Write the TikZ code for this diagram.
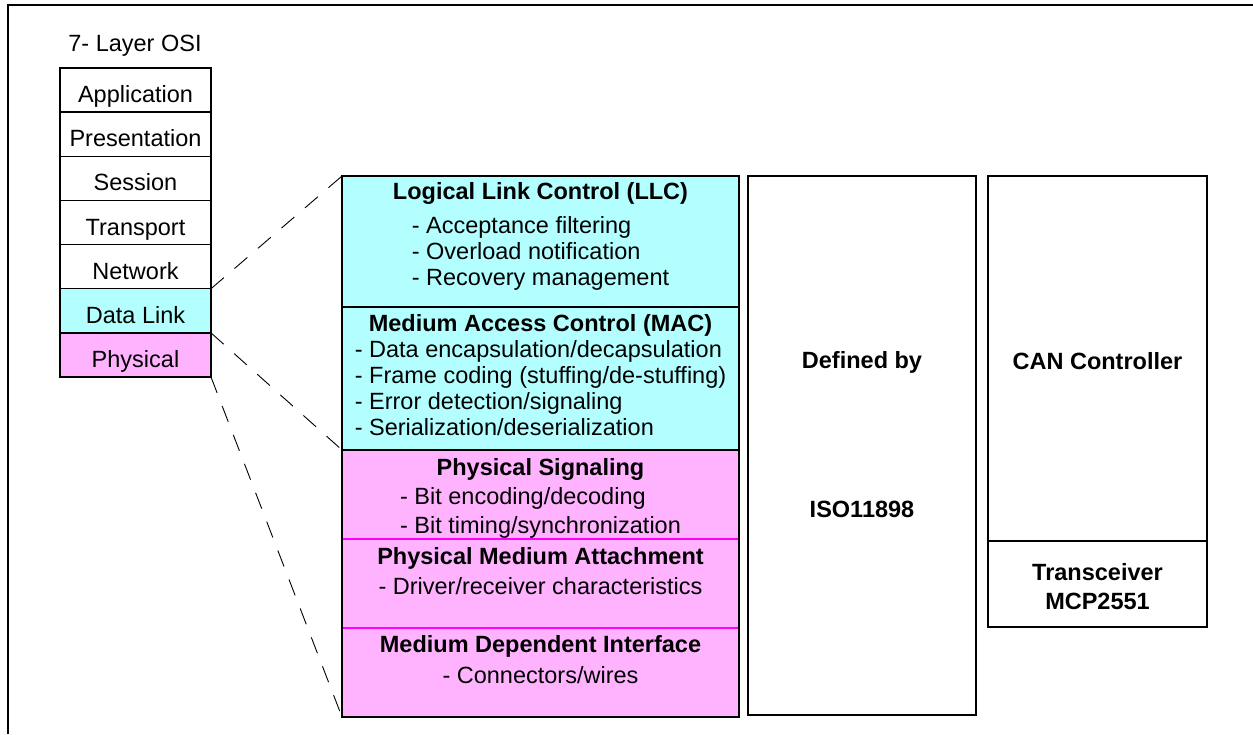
\documentclass[tikz,border=0pt]{standalone}
\usepackage{fontspec}
\setmainfont{Liberation Sans}
\usepackage{tikz}
\usetikzlibrary{positioning}
\definecolor{llccyan}{RGB}{179,255,255}
\definecolor{phypink}{RGB}{255,179,255}
\definecolor{phyline}{RGB}{255,0,255}

\begin{document}
\begin{tikzpicture}[x=1pt,y=-1pt,
  every node/.style={font=\fontsize{23.5}{26}\selectfont,inner sep=0pt,outer sep=0pt},
  osi/.style={draw,line width=1.5pt,minimum width=151pt,minimum height=44.14pt,text height=25pt,text depth=0pt},
  sub/.style={draw,line width=1.5pt,minimum width=397pt},
  pinksub/.style={sub,draw=phyline,line width=1.2pt,fill=phypink,minimum height=89pt},
  box/.style={draw,line width=1.6pt},
  sectxt/.style={align=center,anchor=north},
  link/.style={dash pattern=on 17pt off 14pt,line width=0.9pt}]
\useasboundingbox (0,0) rectangle (1253,734);
% outer frame
\draw[line width=1.6pt] (8,734) -- (8,5) -- (1253,5);

% 7-layer stack
\node (osititle) [anchor=base] at (135,51) {7- Layer OSI};
\node (app) [osi] at (135.5,90.1) {Application};
\node (pres) [osi,below=0pt of app] {Presentation};
\node (sess) [osi,below=0pt of pres] {Session};
\node (trans) [osi,below=0pt of sess] {Transport};
\node (net) [osi,below=0pt of trans] {Network};
\node (dl) [osi,fill=llccyan,below=0pt of net] {Data Link};
\node (phy) [osi,fill=phypink,below=0pt of dl] {Physical};

% sublayers
\node (llc) [sub,fill=llccyan,minimum height=131pt,anchor=north west] at (342,176) {};
\node (mac) [sub,fill=llccyan,minimum height=143pt,below=0pt of llc] {};
\node (psig) [pinksub,below=0pt of mac] {};
\node (pma) [pinksub,below=0pt of psig] {};
\node (mdi) [pinksub,below=0pt of pma] {};
\draw[line width=1.6pt] (llc.north west) rectangle (mdi.south east);
\draw[line width=1.6pt] (mac.south west) -- (mac.south east);

\node (llctxt) [sectxt,below=5pt of llc.north] {\strut\textbf{Logical Link Control (LLC)}\\[8pt]
  \begin{tabular}[t]{@{}l@{}}- Acceptance filtering\\- Overload notification\\- Recovery management\end{tabular}};
\node (mactxt) [sectxt,below=5.8pt of mac.north] {\strut\textbf{Medium Access Control (MAC)}\\
  \begin{tabular}[t]{@{}l@{}}- Data encapsulation/decapsulation\\- Frame coding (stuffing/de-stuffing)\\- Error detection/signaling\\- Serialization/deserialization\end{tabular}};
\node (psigtxt) [sectxt,below=6.8pt of psig.north] {\strut\textbf{Physical Signaling}\\[3.5pt]
  \begin{tabular}[t]{@{}l@{}}- Bit encoding/decoding\\[3pt]- Bit timing/synchronization\end{tabular}};
\node (pmatxt) [sectxt,below=6.8pt of pma.north] {\strut\textbf{Physical Medium Attachment}\\[4pt]
  - Driver/receiver characteristics};
\node (mditxt) [sectxt,below=5.8pt of mdi.north] {\strut\textbf{Medium Dependent Interface}\\[5pt]
  - Connectors/wires};

% standard and devices
\node (defby) [box,minimum width=228pt,minimum height=539pt,anchor=north west] at (748,176) {};
\node (canctl) [box,minimum width=219pt,minimum height=365pt,anchor=north west] at (988,176) {};
\node (xcvr) [box,minimum width=219pt,minimum height=86pt,below=0pt of canctl] {};
\node (deftxt) [anchor=base] at (862,368) {\textbf{Defined by}};
\node (isotxt) [anchor=base] at (862,517) {\textbf{ISO11898}};
\node (cantxt) [anchor=base] at (1097.5,369) {\textbf{CAN Controller}};
\node (xcvrtxt) [sectxt] at (1097.5,561.8) {\strut\textbf{Transceiver}\\[3pt]\textbf{MCP2551}};

% zoom lines
\draw[link] (dl.north east) -- (llc.north west);
\draw[link] (dl.south east) -- (mac.south west);
\draw[link] (phy.south east) -- (mdi.south west);
\end{tikzpicture}
\end{document}
